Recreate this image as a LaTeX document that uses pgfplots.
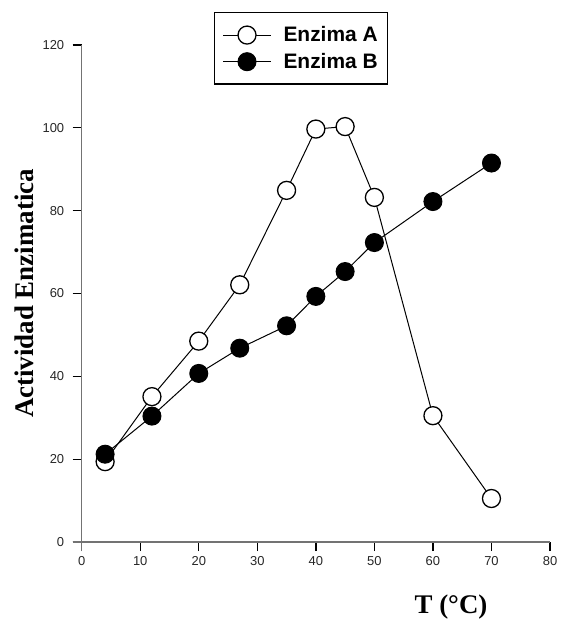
\documentclass[border=0pt]{standalone}
\usepackage{fontspec}
\setmainfont{Liberation Serif}
\newfontfamily\arialfont{Liberation Sans}
\usepackage{pgfplots}
\pgfplotsset{compat=1.18}

\begin{document}
\begin{tikzpicture}
\begin{axis}[
    scale only axis,
    width=468.3bp,
    height=497bp,
    xmin=0, xmax=80,
    ymin=0, ymax=120,
    xtick={0,10,...,80},
    ytick={0,20,...,120},
    axis x line=bottom,
    axis y line=left,
    axis line style={-, black!55, line width=1.3bp, shorten <=-9bp},
    tick align=outside,
    major tick length=9bp,
    every tick/.style={black, line width=1.3bp},
    tick label style={font=\arialfont\fontsize{13}{15}\selectfont, black!85},
    /pgf/number format/assume math mode=true,
    yticklabel style={xshift=-5bp},
    xticklabel style={yshift=-2bp},
    every axis x label/.style={at={(axis description cs:0.7886,-0.1308)}, anchor=center},
    every axis y label/.style={at={(axis description cs:-0.1232,0.5)}, rotate=90, anchor=center},
    xlabel={\bfseries\fontsize{27}{30}\selectfont T (°C)},
    ylabel={\bfseries\fontsize{27}{30}\selectfont Actividad Enzimatica},
    legend style={at={(axis description cs:0.4685,1.0664)}, anchor=north,
        draw=black, line width=1.5bp, fill=white,
        font=\arialfont\bfseries\fontsize{21}{23}\selectfont,
        inner xsep=8bp, inner ysep=12bp,
        row sep=6bp,
        /tikz/every odd column/.append style={column sep=10bp},
        cells={anchor=west}},
    legend image code/.code={
        \draw[mark repeat=2, mark phase=2] plot coordinates {(0bp,0bp) (24bp,0bp) (48bp,0bp)};
    },
    mark size=9bp,
]
% Enzima A (open circles)
\addplot[black, line width=1bp, mark=*, mark options={fill=white, draw=black, line width=1.3bp}] coordinates {
    (4,19.4) (12,35.1) (20,48.5) (27,62.1) (35,84.9) (40,99.7) (45,100.3) (50,83.2) (60,30.5) (70,10.5)
};
% Enzima B (filled circles)
\addplot[black, line width=1bp, mark=*, mark options={fill=black, draw=black, line width=1bp}] coordinates {
    (4,21.2) (12,30.4) (20,40.7) (27,46.8) (35,52.2) (40,59.3) (45,65.3) (50,72.3) (60,82.2) (70,91.5)
};
\legend{Enzima A, Enzima B}
\end{axis}
\pgfresetboundingbox
\path[use as bounding box] (-81.7bp,-80bp) rectangle (481.3bp,542bp);
\end{tikzpicture}
\end{document}
